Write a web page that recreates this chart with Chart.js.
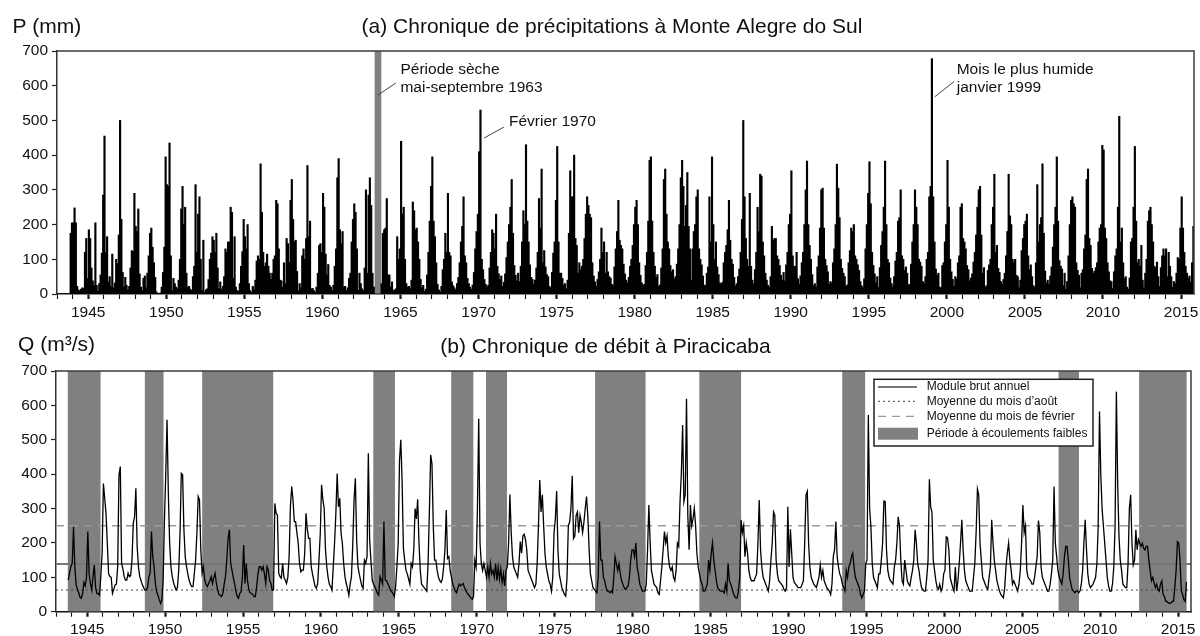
<!DOCTYPE html>
<html>
<head>
<meta charset="utf-8">
<script src="https://cdn.jsdelivr.net/npm/chart.js@4.4.0/dist/chart.umd.min.js"></script>
<style>
html,body{margin:0;padding:0;background:#fff;}
#wrap{position:relative;width:1200px;height:636px;overflow:hidden;}
.box{position:absolute;left:0;width:1200px;}
</style>
</head>
<body>
<div id="wrap">
  <div class="box" style="top:0;height:322px"><canvas id="c1"></canvas></div>
  <div class="box" style="top:322px;height:314px"><canvas id="c2"></canvas></div>
</div>
<script>
// ---------------- DATA ----------------
// Monthly precipitation (mm) at Monte Alegre do Sul, starting November 1943
const P_1940s = [
  175, 205,
  205, 248, 205, 22, 12, 9, 14, 18, 16, 120, 160, 45,
  185, 160, 75, 38, 24, 205, 25, 8, 30, 55, 118, 285,
  455, 120, 165, 35, 50, 22, 115, 18, 32, 100, 88, 170,
  500, 215, 62, 20, 48, 25, 12, 22, 75, 125, 122, 290,
  195, 180, 245, 58, 20, 10, 45, 52, 18, 60, 110, 175,
  190, 135, 90, 48, 6, 2, 0, 3, 20, 62, 135, 395
];
const P_1950s = [
  315, 310, 435, 110, 10, 45, 30, 20, 15, 40, 100, 245,
  310, 200, 250, 60, 20, 22, 14, 10, 50, 80, 315, 120,
  230, 280, 100, 10, 155, 5, 12, 15, 42, 100, 118, 165,
  155, 120, 175, 75, 15, 35, 14, 22, 50, 130, 120, 150,
  150, 250, 235, 45, 165, 20, 10, 8, 30, 80, 122, 215,
  165, 130, 200, 30, 10, 5, 22, 12, 40, 95, 110, 100,
  375, 235, 120, 80, 90, 115, 80, 60, 42, 60, 100, 110,
  270, 260, 130, 40, 38, 20, 90, 30, 160, 145, 90, 270,
  330, 215, 150, 155, 65, 10, 30, 18, 110, 130, 100, 160,
  370, 165, 210, 15, 16, 10, 5, 20, 60, 140, 145, 120
];
const P_1960s = [
  290, 250, 115, 55, 85, 25, 20, 10, 25, 80, 130, 335,
  390, 185, 145, 180, 20, 22, 10, 18, 45, 60, 150, 215,
  260, 235, 130, 10, 60, 30, 15, 10, 75, 300, 60, 285,
  335, 255, 60, 20, 0, 0, 0, 0, 0, 30, 175, 185,
  190, 275, 55, 55, 20, 35, 10, 12, 15, 165, 100, 130,
  440, 230, 250, 100, 30, 20, 22, 15, 40, 265, 240, 185,
  190, 150, 100, 42, 18, 25, 8, 14, 55, 120, 210, 310,
  395, 210, 165, 90, 28, 12, 6, 22, 70, 100, 175, 120,
  290, 120, 110, 35, 24, 18, 12, 30, 48, 90, 150, 195,
  280, 110, 90, 45, 30, 20, 14, 26, 62, 130, 180, 230
];
const P_1970s = [
  410, 530, 100, 70, 42, 28, 19, 25, 75, 120, 185, 175,
  130, 230, 80, 58, 42, 52, 22, 34, 58, 105, 150, 200,
  250, 330, 175, 82, 54, 38, 60, 36, 80, 150, 240, 200,
  430, 210, 150, 84, 48, 42, 28, 40, 75, 120, 275, 190,
  360, 90, 125, 78, 56, 50, 22, 18, 62, 118, 150, 270,
  425, 150, 60, 60, 45, 25, 30, 15, 40, 175, 355, 280,
  280, 400, 160, 140, 60, 90, 70, 80, 100, 160, 230, 280,
  255, 230, 220, 90, 52, 35, 22, 42, 64, 100, 190, 120,
  150, 60, 120, 64, 50, 46, 28, 24, 78, 130, 180, 270,
  155, 140, 130, 86, 58, 40, 32, 48, 80, 100, 140, 200
];
const P_1980s = [
  250, 270, 200, 90, 54, 32, 24, 28, 82, 120, 210, 385,
  395, 210, 120, 80, 48, 56, 22, 26, 75, 130, 330, 360,
  230, 150, 130, 82, 64, 70, 44, 50, 86, 130, 200, 335,
  385, 310, 195, 255, 350, 195, 130, 40, 130, 180, 200, 280,
  300, 130, 100, 84, 52, 26, 24, 60, 78, 280, 150, 395,
  200, 100, 150, 78, 56, 32, 28, 34, 90, 120, 140, 185,
  270, 155, 100, 86, 48, 24, 30, 50, 72, 120, 215, 500,
  280, 160, 100, 80, 290, 80, 40, 30, 70, 120, 250, 180,
  345, 340, 150, 110, 60, 40, 25, 20, 50, 195, 155, 160,
  160, 110, 100, 82, 54, 40, 62, 38, 84, 120, 200, 230
];
const P_1990s = [
  355, 110, 80, 80, 120, 44, 28, 52, 90, 120, 200, 300,
  383, 200, 140, 100, 56, 24, 30, 20, 78, 110, 190, 300,
  305, 190, 100, 82, 64, 28, 36, 32, 90, 130, 200, 374,
  305, 220, 100, 74, 60, 50, 22, 26, 90, 125, 190, 180,
  200, 110, 100, 84, 68, 36, 24, 18, 44, 130, 200, 290,
  381, 260, 120, 82, 58, 32, 50, 20, 76, 140, 180, 250,
  383, 200, 100, 90, 46, 30, 20, 50, 95, 120, 210, 220,
  300, 110, 100, 68, 78, 60, 26, 28, 86, 150, 200, 300,
  250, 200, 100, 92, 80, 36, 30, 50, 100, 120, 280, 310,
  678, 280, 150, 72, 54, 60, 20, 18, 82, 90, 150, 200
];
const P_2000s = [
  385, 250, 100, 64, 42, 22, 50, 44, 90, 110, 250, 260,
  160, 150, 130, 82, 70, 38, 46, 58, 92, 120, 170, 250,
  300, 310, 170, 60, 76, 20, 24, 68, 84, 100, 200, 250,
  345, 120, 140, 74, 62, 36, 28, 42, 60, 110, 180, 345,
  225, 200, 100, 90, 100, 54, 50, 18, 40, 125, 160, 200,
  210, 230, 110, 70, 84, 50, 24, 20, 90, 315, 150, 200,
  220, 375, 175, 66, 32, 40, 28, 52, 78, 135, 200, 250,
  395, 210, 96, 80, 72, 24, 60, 14, 36, 110, 200, 270,
  280, 260, 250, 90, 68, 54, 18, 60, 70, 130, 170, 330,
  360, 160, 140, 74, 60, 66, 76, 90, 150, 190, 200, 428
];
const P_2010s = [
  415, 190, 160, 90, 64, 38, 36, 16, 64, 110, 130, 250,
  512, 150, 190, 90, 44, 50, 20, 14, 46, 150, 160, 250,
  425, 210, 90, 100, 80, 140, 40, 18, 60, 100, 210, 240,
  250, 200, 150, 80, 76, 92, 50, 22, 76, 110, 130, 110,
  130, 50, 120, 80, 50, 20, 36, 30, 60, 105, 100, 190,
  280, 190, 120, 80, 60, 46, 52, 34, 90, 195
];

// Monthly discharge (m3/s) at Piracicaba, starting October 1943
const Q_1940s = [
  92, 115, 131,
  141, 247, 130, 78, 65, 55, 42, 39, 53, 85, 75, 100,
  233, 111, 82, 63, 102, 136, 70, 53, 53, 48, 102, 170,
  373, 330, 286, 200, 110, 102, 100, 53, 65, 78, 80, 131,
  398, 422, 141, 125, 102, 92, 92, 112, 102, 105, 150, 257,
  276, 359, 189, 130, 102, 90, 78, 70, 63, 63, 70, 100,
  112, 233, 160, 131, 82, 58, 48, 35, 24, 34, 92, 267
];
const Q_1950s = [
  400, 558, 344, 200, 131, 102, 85, 73, 63, 70, 120, 228,
  402, 398, 238, 160, 131, 110, 92, 80, 73, 73, 110, 150,
  228, 335, 325, 180, 112, 131, 92, 80, 73, 82, 90, 102,
  82, 100, 112, 82, 63, 50, 48, 44, 53, 80, 102, 150,
  213, 238, 141, 121, 100, 82, 60, 44, 39, 53, 58, 100,
  194, 82, 141, 90, 63, 55, 53, 50, 44, 44, 73, 110,
  131, 131, 121, 131, 110, 82, 131, 121, 90, 82, 63, 63,
  315, 286, 281, 112, 102, 97, 141, 100, 92, 82, 100, 160,
  305, 364, 325, 262, 262, 230, 199, 141, 116, 121, 121, 170,
  286, 240, 213, 213, 131, 110, 92, 73, 68, 82, 150, 228
];
const Q_1960s = [
  369, 325, 301, 180, 131, 100, 80, 73, 63, 131, 200, 286,
  402, 305, 330, 228, 199, 140, 102, 82, 68, 48, 80, 102,
  194, 325, 388, 209, 131, 110, 92, 75, 68, 150, 141, 160,
  461, 209, 150, 92, 80, 73, 63, 53, 48, 102, 92, 80,
  262, 92, 90, 82, 73, 63, 58, 53, 44, 73, 131, 200,
  440, 500, 380, 184, 150, 120, 110, 95, 80, 140, 130, 180,
  300, 270, 327, 200, 120, 80, 75, 70, 65, 60, 140, 290,
  456, 430, 250, 150, 150, 120, 100, 90, 85, 95, 130, 180,
  296, 155, 160, 120, 100, 80, 70, 60, 55, 70, 80, 75,
  78, 82, 70, 62, 55, 50, 45, 40, 36, 44, 150, 130
];
const Q_1970s = [
  300, 561, 200, 140, 120, 140, 120, 100, 130, 100, 140, 110,
  120, 100, 140, 90, 130, 95, 125, 85, 110, 75, 120, 130,
  200, 341, 230, 160, 130, 120, 110, 100, 140, 204, 170, 220,
  225, 210, 180, 120, 110, 100, 90, 80, 70, 80, 140, 250,
  383, 290, 340, 250, 170, 130, 110, 90, 80, 60, 100, 230,
  270, 351, 180, 110, 90, 70, 60, 50, 45, 100, 250, 260,
  300, 395, 213, 220, 280, 290, 230, 280, 260, 230, 260, 300,
  335, 280, 180, 110, 90, 70, 65, 60, 55, 100, 262, 150,
  150, 100, 90, 70, 60, 60, 55, 60, 55, 100, 160, 140,
  120, 140, 110, 90, 80, 70, 65, 70, 75, 100, 150, 180
];
const Q_1980s = [
  180, 160, 200, 130, 110, 80, 70, 60, 60, 60, 80, 180,
  310, 200, 120, 100, 80, 75, 70, 55, 50, 90, 130, 180,
  233, 200, 220, 160, 130, 120, 130, 100, 90, 120, 199, 190,
  320, 400, 543, 320, 340, 619, 280, 180, 310, 250, 270, 300,
  250, 170, 130, 110, 90, 80, 60, 60, 70, 80, 150, 120,
  170, 200, 150, 120, 90, 70, 65, 60, 60, 60, 55, 80,
  60, 141, 90, 80, 70, 55, 45, 40, 40, 60, 100, 267,
  230, 250, 160, 200, 170, 120, 100, 90, 90, 90, 100, 110,
  200, 325, 180, 130, 100, 90, 80, 70, 60, 90, 150, 200,
  290, 280, 150, 110, 90, 85, 80, 75, 65, 60, 70, 305
];
const Q_1990s = [
  130, 240, 170, 100, 85, 80, 75, 70, 70, 70, 80, 90,
  200, 339, 350, 200, 130, 100, 90, 80, 75, 70, 85, 100,
  136, 100, 120, 90, 80, 70, 65, 60, 50, 80, 160, 180,
  262, 160, 130, 110, 100, 80, 70, 60, 120, 100, 130, 140,
  160, 170, 130, 100, 90, 80, 70, 50, 40, 50, 60, 140,
  150, 572, 300, 247, 140, 100, 90, 80, 70, 110, 110, 150,
  200, 322, 320, 180, 120, 100, 90, 85, 80, 130, 150, 200,
  276, 250, 150, 90, 80, 150, 120, 90, 80, 75, 100, 120,
  150, 238, 200, 140, 120, 90, 70, 65, 60, 60, 100, 150,
  385, 305, 290, 150, 120, 90, 70, 65, 80, 60, 70, 110
];
const Q_2000s = [
  120, 218, 215, 180, 100, 85, 70, 60, 130, 60, 90, 140,
  200, 267, 180, 120, 90, 80, 70, 60, 60, 60, 100, 140,
  230, 357, 340, 200, 150, 100, 90, 80, 70, 65, 100, 130,
  267, 200, 150, 120, 90, 75, 60, 50, 45, 40, 70, 130,
  170, 200, 150, 120, 80, 90, 80, 70, 60, 80, 120, 200,
  310, 230, 250, 120, 100, 95, 90, 80, 80, 100, 130, 160,
  265, 230, 130, 100, 90, 80, 70, 60, 60, 80, 110, 150,
  364, 200, 160, 120, 100, 90, 80, 110, 160, 190, 190, 150,
  100, 80, 65, 60, 55, 60, 60, 55, 60, 80, 120, 200,
  267, 180, 110, 80, 70, 75, 80, 90, 100, 140, 250, 582
];
const Q_2010s = [
  400, 300, 250, 200, 150, 100, 75, 60, 60, 80, 130, 250,
  640, 373, 220, 150, 120, 80, 75, 70, 70, 140, 300, 340,
  200, 136, 150, 238, 180, 210, 200, 190, 199, 185, 180, 190,
  190, 150, 120, 90, 100, 85, 70, 80, 65, 60, 80, 90,
  50, 45, 30, 30, 25, 25, 25, 30, 30, 70, 120, 204,
  200, 150, 60, 50, 35, 30, 87
];

const P_START = 1943 + 10 / 12;   // Nov 1943
const Q_START = 1943 + 9 / 12;    // Oct 1943
const X_MIN = 1943, X_MAX = 2015.83;
const Y_MAX = 700;

const dryPeriod = [1963.33, 1963.79];          // mai-septembre 1963
const lowFlowPeriods = [
  [1943.74, 1945.86], [1948.70, 1949.90], [1952.38, 1956.94], [1963.36, 1964.75],
  [1968.36, 1969.78], [1970.59, 1971.94], [1977.59, 1980.83], [1984.28, 1986.96],
  [1993.45, 1994.92], [2007.33, 2008.64], [2012.50, 2015.56]
];
const moduleAnnuel = 139;     // Module brut annuel
const moyenneAout = 63;       // Moyenne du mois d'août
const moyenneFevrier = 250;   // Moyenne du mois de février

// ---------------- BUILD ----------------
const precip = [].concat(P_1940s, P_1950s, P_1960s, P_1970s, P_1980s, P_1990s, P_2000s, P_2010s);
const flow = [].concat(Q_1940s, Q_1950s, Q_1960s, Q_1970s, Q_1980s, Q_1990s, Q_2000s, Q_2010s);
const precipPts = precip.map((v, i) => ({x: P_START + (i + 0.5) / 12, y: v}));
const flowPts = flow.map((v, i) => ({x: Q_START + (i + 0.5) / 12, y: v}));
function bandPts(list) {
  const out = [];
  list.forEach(([a, b]) => { out.push({x: a, y: Y_MAX}); out.push({x: b, y: 0}); });
  return out;
}
const hline = v => [{x: X_MIN, y: v}, {x: X_MAX, y: v}];

const FONT = "'Liberation Sans', Arial, Helvetica, sans-serif";
Chart.defaults.font.family = FONT;
Chart.defaults.color = '#111';

const isMajor = v => Math.abs(v - Math.round(v)) < 1e-6 && Math.round(v) % 5 === 0;

function xScale(h) {
  return {
    type: 'linear', min: X_MIN, max: X_MAX, offset: false,
    ticks: {
      stepSize: 1, autoSkip: false, maxRotation: 0, minRotation: 0, includeBounds: false,
      font: {size: 15.5}, color: '#111', padding: 4,
      callback: v => isMajor(v) ? String(Math.round(v)) : ''
    },
    grid: {
      display: true, drawOnChartArea: false, drawTicks: true, offset: false, tickLength: 5,
      tickColor: '#111',
      tickWidth: c => (c.tick && isMajor(c.tick.value)) ? 2.2 : 1.1
    },
    border: {display: true, color: '#111', width: 1.6},
    afterFit: s => { s.height = h; s.paddingLeft = 0; s.paddingRight = 0; }
  };
}
function yScale(w) {
  return {
    type: 'linear', min: 0, max: Y_MAX,
    ticks: {stepSize: 100, font: {size: 15.5}, color: '#111', padding: 4},
    grid: {display: true, drawOnChartArea: false, tickLength: 5, tickColor: '#222', tickWidth: 1.2},
    border: {display: true, color: '#333', width: 1.5},
    afterFit: s => { s.width = w; s.paddingTop = 0; s.paddingBottom = 0; }
  };
}

// ---------------- TOP CHART ----------------
const TITLE_A = '(a) Chronique de précipitations à Monte Alegre do Sul';
const topNotes = [
  {lines: ['Période sèche', 'mai-septembre 1963'], x: 1965.0, y: 645, lead: [[1963.56, 573], [1964.71, 608]]},
  {lines: ['Février 1970'], x: 1971.95, y: 495, lead: [[1970.35, 449], [1971.63, 481]]},
  {lines: ['Mois le plus humide', 'janvier 1999'], x: 2000.63, y: 645, lead: [[1999.22, 568], [2000.46, 612]]}
];
const topDecor = {
  id: 'topDecor',
  afterDraw(chart) {
    const {ctx, chartArea: a, scales: {x, y}} = chart;
    ctx.save();
    ctx.strokeStyle = '#3c3c3c'; ctx.lineWidth = 1.5;
    ctx.beginPath(); ctx.moveTo(a.left, a.top); ctx.lineTo(a.right, a.top); ctx.lineTo(a.right, a.bottom); ctx.stroke();
    ctx.fillStyle = '#111'; ctx.textBaseline = 'middle';
    ctx.font = '21px ' + FONT;
    ctx.textAlign = 'left'; ctx.fillText('P (mm)', 12.5, 27);
    ctx.textAlign = 'center'; ctx.fillText(TITLE_A, 612, 27);
    ctx.font = '15.5px ' + FONT; ctx.textAlign = 'left';
    topNotes.forEach(n => {
      ctx.strokeStyle = '#444'; ctx.lineWidth = 1;
      ctx.beginPath();
      ctx.moveTo(x.getPixelForValue(n.lead[0][0]), y.getPixelForValue(n.lead[0][1]));
      ctx.lineTo(x.getPixelForValue(n.lead[1][0]), y.getPixelForValue(n.lead[1][1]));
      ctx.stroke();
      n.lines.forEach((t, i) => ctx.fillText(t, x.getPixelForValue(n.x), y.getPixelForValue(n.y) + i * 18));
    });
    ctx.restore();
  }
};

new Chart(document.getElementById('c1'), {
  type: 'bar',
  data: {
    datasets: [
      {type: 'bar', label: 'P', data: precipPts, backgroundColor: '#000', borderWidth: 0,
       barThickness: 1.5, grouped: false, order: 0},
      {type: 'line', label: 'Période sèche', data: bandPts([dryPeriod]), stepped: 'before',
       fill: 'origin', backgroundColor: '#808080', borderWidth: 0, pointRadius: 0, order: 1}
    ]
  },
  options: {
    responsive: true, maintainAspectRatio: false, animation: false, events: [],
    layout: {padding: {left: 0, right: 6, top: 51, bottom: 0}},
    plugins: {legend: {display: false}, tooltip: {enabled: false}},
    scales: {x: xScale(28), y: yScale(57)}
  },
  plugins: [topDecor]
});

// ---------------- BOTTOM CHART ----------------
const TITLE_B = '(b) Chronique de débit à Piracicaba';
const bottomDecor = {
  id: 'bottomDecor',
  afterDraw(chart) {
    const {ctx, chartArea: a} = chart;
    const ds = chart.data.datasets;
    ctx.save();
    ctx.strokeStyle = '#3c3c3c'; ctx.lineWidth = 1.5;
    ctx.beginPath(); ctx.moveTo(a.left, a.top); ctx.lineTo(a.right, a.top); ctx.lineTo(a.right, a.bottom); ctx.stroke();
    ctx.fillStyle = '#111'; ctx.textBaseline = 'middle';
    ctx.font = '21px ' + FONT;
    ctx.textAlign = 'left'; ctx.fillText('Q (m³/s)', 18, 23);
    ctx.textAlign = 'center'; ctx.fillText(TITLE_B, 605.5, 25);
    // legend
    const L = a.right - 317, T = a.top + 8.3, W = 219, H = 66.7;
    ctx.fillStyle = '#fff'; ctx.fillRect(L, T, W, H);
    ctx.strokeStyle = '#222'; ctx.lineWidth = 1.5; ctx.strokeRect(L, T, W, H);
    ctx.font = '12px ' + FONT; ctx.textAlign = 'left';
    const rows = [[ds[1], 7.7], [ds[2], 22], [ds[3], 37], [ds[4], 54.4]];
    rows.forEach(([d, dy], i) => {
      const yy = T + dy;
      if (i < 3) {
        ctx.strokeStyle = d.borderColor; ctx.lineWidth = d.borderWidth;
        ctx.setLineDash(d.borderDash || []);
        ctx.beginPath(); ctx.moveTo(L + 4, yy); ctx.lineTo(L + 43, yy); ctx.stroke();
        ctx.setLineDash([]);
      } else {
        ctx.fillStyle = d.backgroundColor; ctx.fillRect(L + 4, yy - 6, 40, 12);
      }
      ctx.fillStyle = '#111';
      ctx.fillText(d.label, L + 52.7, yy);
    });
    ctx.restore();
  }
};

new Chart(document.getElementById('c2'), {
  type: 'line',
  data: {
    datasets: [
      {label: 'Q', data: flowPts, borderColor: '#000', borderWidth: 1.3, pointRadius: 0, tension: 0, fill: false, order: 0},
      {label: 'Module brut annuel', data: hline(moduleAnnuel), borderColor: '#777', borderWidth: 2, pointRadius: 0, fill: false, order: 1},
      {label: 'Moyenne du mois d\u2019août', data: hline(moyenneAout), borderColor: '#444', borderWidth: 1, borderDash: [2, 3], pointRadius: 0, fill: false, order: 1},
      {label: 'Moyenne du mois de février', data: hline(moyenneFevrier), borderColor: '#9a9a9a', borderWidth: 1.3, borderDash: [8, 6], pointRadius: 0, fill: false, order: 1},
      {label: 'Période à écoulements faibles', data: bandPts(lowFlowPeriods), stepped: 'before', fill: 'origin',
       backgroundColor: '#808080', borderWidth: 0, borderColor: 'rgba(0,0,0,0)', pointRadius: 0, order: 2}
    ]
  },
  options: {
    responsive: true, maintainAspectRatio: false, animation: false, events: [],
    layout: {padding: {left: 0, right: 9, top: 49, bottom: 0}},
    plugins: {legend: {display: false}, tooltip: {enabled: false}},
    scales: {x: xScale(24.3), y: yScale(56)}
  },
  plugins: [bottomDecor]
});
</script>
</body>
</html>
